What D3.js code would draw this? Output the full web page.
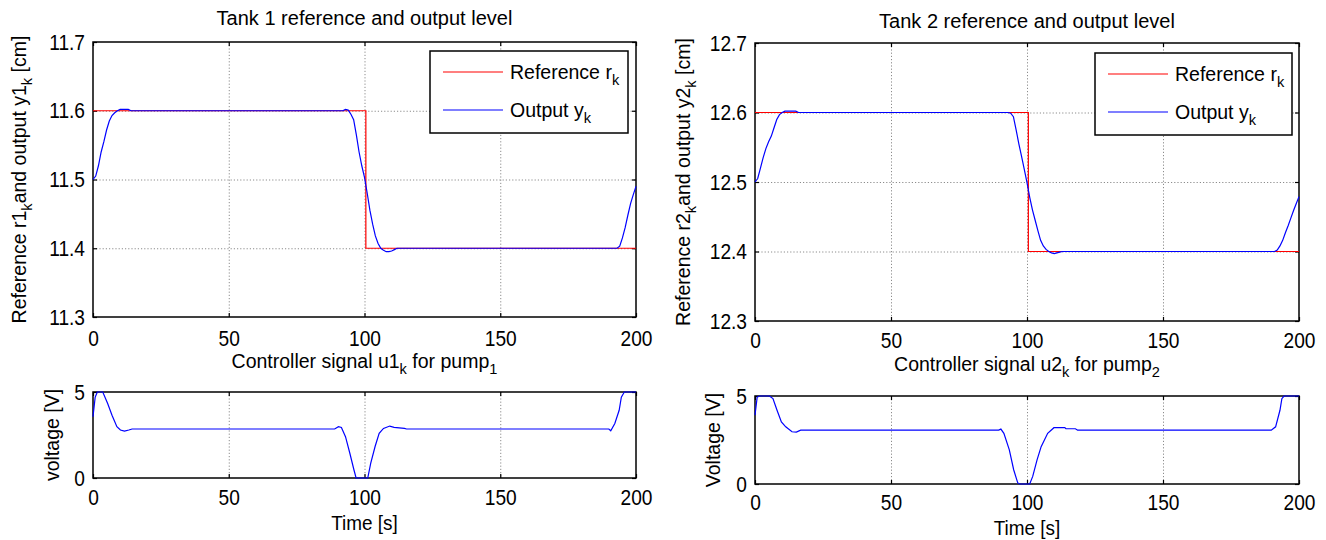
<!DOCTYPE html>
<html>
<head>
<meta charset="utf-8">
<script src="https://cdn.jsdelivr.net/npm/d3@7"></script>
<style>
  body { margin: 0; background: #fff; }
  svg text { font-family: "Liberation Sans", Arial, sans-serif; fill: #000; }
  .grid line { stroke: #8c8c8c; stroke-dasharray: 1.2,2; }
</style>
</head>
<body>
<svg id="chart" width="1326" height="540"></svg>
<script>
// data
const xTicks = [0, 50, 100, 150, 200];
const yTicks1 = [11.3, 11.4, 11.5, 11.6, 11.7];
const yTicks2 = [12.3, 12.4, 12.5, 12.6, 12.7];
const uTicks = [0, 5];

const timeRef = [0, 100.5, 100.5, 200];
const ref1 = [11.6, 11.6, 11.4, 11.4];
const ref2 = [12.6, 12.6, 12.4, 12.4];

const time1 = [0, 1, 2, 3, 4, 5, 6, 7, 8, 9, 10, 13, 14, 92, 93, 94, 95, 96, 97, 98, 99, 100, 101, 102, 103, 104, 105, 106, 107, 108, 109, 110, 111, 112, 193, 194, 195, 196, 197, 198, 199, 200];
const level1 = [11.5, 11.505, 11.52, 11.54, 11.555, 11.572, 11.585, 11.593, 11.597, 11.6, 11.602, 11.602, 11.6, 11.6, 11.602, 11.601, 11.595, 11.587, 11.565, 11.54, 11.52, 11.503, 11.48, 11.455, 11.435, 11.418, 11.407, 11.4, 11.397, 11.395, 11.395, 11.396, 11.398, 11.4, 11.4, 11.403, 11.415, 11.43, 11.448, 11.465, 11.478, 11.49];

const time2 = [0, 1, 2, 3, 4, 5, 6, 7, 8, 9, 10, 11, 15, 16, 93, 94, 95, 96, 97, 98, 99, 100, 101, 102, 103, 104, 105, 106, 107, 108, 109, 110, 111, 112, 113, 191, 192, 193, 194, 195, 196, 197, 198, 199, 200];
const level2 = [12.5, 12.505, 12.52, 12.535, 12.548, 12.558, 12.566, 12.578, 12.59, 12.597, 12.6, 12.602, 12.602, 12.6, 12.6, 12.599, 12.594, 12.575, 12.555, 12.537, 12.518, 12.499, 12.478, 12.46, 12.445, 12.43, 12.416, 12.408, 12.403, 12.4, 12.398, 12.397, 12.398, 12.399, 12.4, 12.4, 12.402, 12.408, 12.416, 12.427, 12.437, 12.448, 12.459, 12.469, 12.479];

const timeU1 = [0, 0.8, 1.6, 3.6, 5.4, 7, 8.8, 10.1, 11.6, 13.2, 14.4, 89, 90.4, 91.5, 93, 94.6, 96.1, 96.9, 101.2, 102.3, 103.9, 105.4, 107, 109.3, 110.9, 114.7, 115.5, 190, 190.7, 192.2, 193.8, 194.6, 195.7, 200];
const u1 = [3.56, 4.7, 5, 5, 4.33, 3.65, 2.98, 2.79, 2.73, 2.79, 2.85, 2.85, 2.98, 2.94, 2.4, 1.44, 0.48, 0, 0, 0.87, 1.83, 2.6, 2.88, 3.02, 2.94, 2.88, 2.85, 2.85, 2.75, 3.17, 3.94, 4.7, 5, 5];

const timeU2 = [0, 0.8, 1.6, 5.3, 6.6, 8.1, 9.7, 11.3, 13.6, 15.2, 16.8, 89.6, 90.4, 91.5, 93.5, 95.1, 96.6, 97.4, 101, 102.1, 103.7, 105.2, 107.6, 109.9, 113.9, 114.3, 117.8, 118.6, 189.8, 191.4, 193, 193.7, 194.5, 200];
const u2 = [3.91, 4.94, 5, 5, 4.85, 4.19, 3.53, 3.25, 2.97, 2.95, 3.06, 3.06, 3.12, 2.88, 1.94, 0.81, 0.06, 0, 0, 0.43, 1.37, 2.12, 2.88, 3.2, 3.2, 3.14, 3.14, 3.06, 3.06, 3.25, 4.19, 4.85, 5, 5];

const svg = d3.select('#chart');
const FS = 19.5;
const TICK_FS = 22;

// text with alternating normal / subscript parts
function rich(sel, parts) {
  parts.forEach((p, i) => {
    const sub = i % 2 === 1;
    const t = sel.append('tspan').text(p);
    if (sub) t.attr('font-size', FS * 0.75).attr('dy', 6);
    else if (i > 0) t.attr('dy', -6);
  });
  return sel;
}

// the reference font is a bit narrow: squeeze plain labels horizontally
function squeeze(sel, k) {
  sel.each(function () {
    const len = this.getComputedTextLength();
    if (len > 0) {
      d3.select(this).attr('textLength', len * k).attr('lengthAdjust', 'spacingAndGlyphs');
    }
  });
}

function panel(box, o) {
  const w = box.right - box.left;
  const h = box.bottom - box.top;
  const x = d3.scaleLinear().domain([0, 200]).range([0, w]);
  const y = d3.scaleLinear().domain(o.yDomain).range([h, 0]);
  const g = svg.append('g').attr('transform', `translate(${box.left},${box.top})`);

  // grid
  g.append('g').attr('class', 'grid')
    .call(d3.axisBottom(x).tickValues(xTicks.slice(1, -1)).tickSize(h).tickFormat(''))
    .call(s => s.select('.domain').remove());
  g.append('g').attr('class', 'grid')
    .call(d3.axisRight(y).tickValues(o.yTicks.slice(1, -1)).tickSize(w).tickFormat(''))
    .call(s => s.select('.domain').remove());

  // axes with inside ticks
  const style = s => {
    s.attr('font-family', null).attr('font-size', null);
    s.select('.domain').remove();
    s.selectAll('.tick line').attr('stroke', '#000').attr('stroke-width', 1.2);
    s.selectAll('.tick text').attr('font-size', TICK_FS).call(squeeze, 0.87);
  };
  g.append('g').attr('transform', `translate(0,${h})`)
    .call(d3.axisBottom(x).tickValues(xTicks).tickSize(-4).tickPadding(o.xPad)).call(style);
  g.append('g')
    .call(d3.axisTop(x).tickValues(xTicks).tickSize(-4).tickFormat('')).call(style);
  g.append('g')
    .call(d3.axisLeft(y).tickValues(o.yTicks).tickSize(-4).tickPadding(8).tickFormat(o.fmt)).call(style);
  g.append('g').attr('transform', `translate(${w},0)`)
    .call(d3.axisRight(y).tickValues(o.yTicks).tickSize(-4).tickFormat('')).call(style);

  g.append('rect').attr('width', w).attr('height', h)
    .attr('fill', 'none').attr('stroke', '#000').attr('stroke-width', 1.5);

  const line = d3.line().x(d => x(d[0])).y(d => y(d[1]));
  o.series.forEach(s => {
    g.append('path')
      .datum(d3.zip(s.t, s.v))
      .attr('fill', 'none')
      .attr('stroke', s.color)
      .attr('stroke-width', 1.2)
      .attr('d', line);
  });

  // title
  rich(svg.append('text')
    .attr('x', box.left + w / 2).attr('y', o.titleY)
    .attr('text-anchor', 'middle').attr('font-size', o.titleSize || FS), o.title);

  // y label
  rich(svg.append('text')
    .attr('transform', `translate(${o.yLabelX},${box.top + h / 2}) rotate(-90)`)
    .attr('text-anchor', 'middle').attr('font-size', FS), o.yLabel);

  if (o.xLabel) {
    svg.append('text')
      .attr('x', box.left + w / 2).attr('y', o.xLabelY)
      .attr('text-anchor', 'middle').attr('font-size', 21)
      .text(o.xLabel)
      .call(squeeze, 0.9);
  }

  if (o.legend) {
    const L = o.legend;
    const lg = svg.append('g');
    lg.append('rect').attr('x', L.x).attr('y', L.y).attr('width', L.w).attr('height', L.h)
      .attr('fill', '#fff').attr('stroke', '#000').attr('stroke-width', 1.5);
    o.series.forEach((s, i) => {
      const ly = L.y + 21 + i * 38;
      lg.append('line').attr('x1', L.x + 13).attr('x2', L.x + 73)
        .attr('y1', ly).attr('y2', ly).attr('stroke', s.color).attr('stroke-width', 1.2);
      rich(lg.append('text').attr('x', L.x + 80).attr('y', ly + 7).attr('font-size', FS), s.label);
    });
  }
}

const fmt1 = d3.format('.1f');

panel({ left: 93, right: 636, top: 42, bottom: 317 }, {
  yDomain: [11.3, 11.7], yTicks: yTicks1, fmt: fmt1, xPad: 13,
  title: ['Tank 1 reference and output level'], titleY: 25, titleSize: 20,
  yLabel: ['Reference r1', 'k', 'and output y1', 'k', ' [cm]'], yLabelX: 26,
  legend: { x: 430, y: 51, w: 198, h: 82 },
  series: [
    { t: timeRef, v: ref1, color: '#ff0000', label: ['Reference r', 'k'] },
    { t: time1, v: level1, color: '#0000ff', label: ['Output y', 'k'] }
  ]
});

panel({ left: 755, right: 1299, top: 43, bottom: 321 }, {
  yDomain: [12.3, 12.7], yTicks: yTicks2, fmt: fmt1, xPad: 11,
  title: ['Tank 2 reference and output level'], titleY: 28, titleSize: 20,
  yLabel: ['Reference r2', 'k', 'and output y2', 'k', ' [cm]'], yLabelX: 690,
  legend: { x: 1095, y: 53, w: 197, h: 82 },
  series: [
    { t: timeRef, v: ref2, color: '#ff0000', label: ['Reference r', 'k'] },
    { t: time2, v: level2, color: '#0000ff', label: ['Output y', 'k'] }
  ]
});

panel({ left: 93, right: 636, top: 392, bottom: 478 }, {
  yDomain: [0, 5], yTicks: uTicks, fmt: d3.format('d'), xPad: 11,
  title: ['Controller signal u1', 'k', ' for pump', '1'], titleY: 368,
  yLabel: ['voltage [V]'], yLabelX: 59,
  xLabel: 'Time [s]', xLabelY: 530,
  series: [{ t: timeU1, v: u1, color: '#0000ff' }]
});

panel({ left: 755, right: 1299, top: 396, bottom: 484 }, {
  yDomain: [0, 5], yTicks: uTicks, fmt: d3.format('d'), xPad: 10,
  title: ['Controller signal u2', 'k', ' for pump', '2'], titleY: 371,
  yLabel: ['Voltage [V]'], yLabelX: 720,
  xLabel: 'Time [s]', xLabelY: 535,
  series: [{ t: timeU2, v: u2, color: '#0000ff' }]
});
</script>
</body>
</html>
